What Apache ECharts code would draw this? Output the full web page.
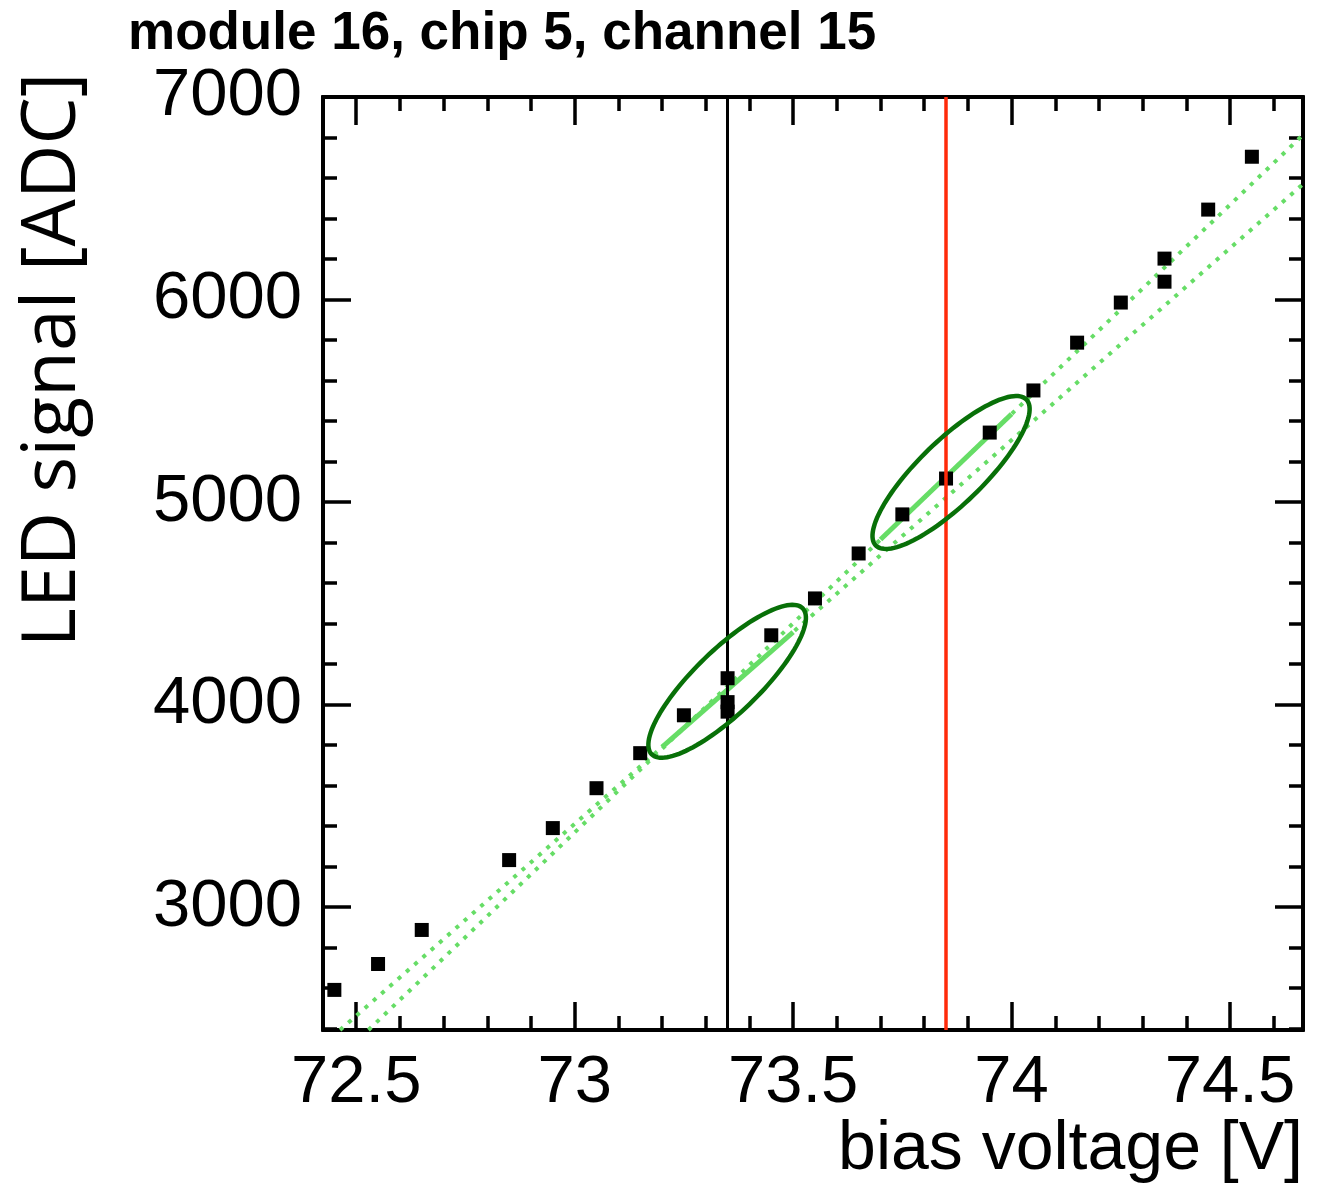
<!DOCTYPE html>
<html><head><meta charset="utf-8">
<script src="https://cdn.jsdelivr.net/npm/echarts@6/dist/echarts.min.js"></script>
<style>html,body{margin:0;padding:0;background:#fff}#c{width:1329px;height:1193px}</style>
</head><body><div id="c"></div>
<script>
const chartTitle = 'module 16, chip 5, channel 15';
const xTitle = 'bias voltage [V]';
const yTitle = 'LED signal [ADC]';

const voltages = [72.45, 72.55, 72.65, 72.85, 72.95, 73.05, 73.15, 73.25, 73.35, 73.35, 73.35, 73.45,
                  73.55, 73.65, 73.75, 73.85, 73.95, 74.05, 74.15, 74.25, 74.35, 74.35, 74.45, 74.55];
const signals  = [2591, 2719, 2887, 3232, 3390, 3587, 3760, 3947, 4130, 4012, 3965, 4342,
                  4524, 4746, 4939, 5116, 5343, 5551, 5787, 5985, 6088, 6202, 6444, 6705];

const xRange = [72.424, 74.667];
const yRange = [2393, 7000];
const xMajorTicks = [72.5, 73, 73.5, 74, 74.5];
const xMinorTicks = [72.5, 72.6, 72.7, 72.8, 72.9, 73.0, 73.1, 73.2, 73.3, 73.4, 73.5, 73.6, 73.7,
                     73.8, 73.9, 74.0, 74.1, 74.2, 74.3, 74.4, 74.5, 74.6];
const yMajorTicks = [3000, 4000, 5000, 6000, 7000];
const yMinorTicks = [2400, 2600, 2800, 3000, 3200, 3400, 3600, 3800, 4000, 4200, 4400, 4600, 4800,
                     5000, 5200, 5400, 5600, 5800, 6000, 6200, 6400, 6600, 6800, 7000];

const markerVoltages = [73.35, 73.85];           // black line, red line
const fitLineLow  = [[72.463, 2393], [74.667, 6570]];
const fitLineHigh = [[72.528, 2393], [74.667, 6813]];
const fitSegLow   = [[73.2, 3790], [73.5, 4358]];
const fitSegHigh  = [[73.7, 4815], [74.0, 5435]];
const ellipseAxes = [[73.176, 3755, 73.522, 4475], [73.689, 4786, 74.034, 5506]];

const FONT = "'Liberation Sans', Arial, Helvetica, sans-serif";
const LIGHT_GREEN = '#66dd66';

function xAx(pos, ticks, len, withLabels) {
  return {
    type: 'value', position: pos, min: xRange[0], max: xRange[1], gridIndex: 0,
    axisLine: { show: true, onZero: false, lineStyle: { color: '#000', width: 4 } },
    axisTick: { show: true, inside: true, length: len, customValues: ticks, lineStyle: { color: '#000', width: 3.5 } },
    axisLabel: withLabels ? { show: true, customValues: ticks, margin: 20, fontSize: 67, color: '#000', fontFamily: FONT,
      formatter: v => String(v) } : { show: false },
    splitLine: { show: false }
  };
}
function yAx(pos, ticks, len, withLabels) {
  return {
    type: 'value', position: pos, min: yRange[0], max: yRange[1], gridIndex: 0,
    axisLine: { show: true, onZero: false, lineStyle: { color: '#000', width: 4 } },
    axisTick: { show: true, inside: true, length: len, customValues: ticks, lineStyle: { color: '#000', width: 3.5 } },
    axisLabel: withLabels ? { show: true, customValues: ticks, margin: 21, fontSize: 67, color: '#000', fontFamily: FONT,
      formatter: v => String(v) } : { show: false },
    splitLine: { show: false }
  };
}

const chart = echarts.init(document.getElementById('c'), null, { renderer: 'canvas' });
chart.setOption({
  animation: false,
  backgroundColor: '#fff',
  grid: { left: 323, right: 26, top: 97, bottom: 163, containLabel: false },
  xAxis: [
    xAx('bottom', xMajorTicks, 28, true),
    xAx('bottom', xMinorTicks, 14, false),
    xAx('top', xMajorTicks, 28, false),
    xAx('top', xMinorTicks, 14, false)
  ],
  yAxis: [
    yAx('left', yMajorTicks, 28, true),
    yAx('left', yMinorTicks, 14, false),
    yAx('right', yMajorTicks, 28, false),
    yAx('right', yMinorTicks, 14, false)
  ],
  graphic: [
    { type: 'text', x: 128, y: 34, style: { text: chartTitle, font: "bold 53px 'Liberation Sans', Arial, sans-serif", fill: '#000', align: 'left', verticalAlign: 'middle' } },
    { type: 'text', x: 1303, y: 1150, style: { text: xTitle, font: "68px 'Liberation Sans', Arial, sans-serif", fill: '#000', align: 'right', verticalAlign: 'middle' } },
    { type: 'text', x: 54, y: 360, rotation: Math.PI / 2, style: { text: yTitle, font: "75px 'Open Sans', sans-serif", fill: '#000', align: 'center', verticalAlign: 'middle' } }
  ],
  series: [
    {
      type: 'line', data: [], xAxisIndex: 0, yAxisIndex: 0, z: 1,
      markLine: {
        silent: true, symbol: ['none', 'none'], label: { show: false }, animation: false,
        data: [
          { xAxis: markerVoltages[0], lineStyle: { color: '#000', width: 3, type: 'solid' } },
          { xAxis: markerVoltages[1], lineStyle: { color: '#ff2a0a', width: 3.5, type: 'solid' } }
        ]
      }
    },
    { type: 'line', data: fitLineLow, xAxisIndex: 0, yAxisIndex: 0, showSymbol: false, symbol: 'none', z: 2,
      lineStyle: { color: LIGHT_GREEN, width: 4, type: [4, 7] } },
    { type: 'line', data: fitLineHigh, xAxisIndex: 0, yAxisIndex: 0, showSymbol: false, symbol: 'none', z: 2,
      lineStyle: { color: LIGHT_GREEN, width: 4, type: [4, 7] } },
    { type: 'line', data: fitSegLow, xAxisIndex: 0, yAxisIndex: 0, showSymbol: false, symbol: 'none', z: 3,
      lineStyle: { color: LIGHT_GREEN, width: 5, type: 'solid' } },
    { type: 'line', data: fitSegHigh, xAxisIndex: 0, yAxisIndex: 0, showSymbol: false, symbol: 'none', z: 3,
      lineStyle: { color: LIGHT_GREEN, width: 5, type: 'solid' } },
    { type: 'scatter', data: voltages.map((v, i) => [v, signals[i]]), xAxisIndex: 0, yAxisIndex: 0, z: 4,
      symbol: 'rect', symbolSize: 14, itemStyle: { color: '#000', opacity: 1 } },
    {
      type: 'custom', xAxisIndex: 0, yAxisIndex: 0, z: 5, clip: false,
      data: ellipseAxes,
      encode: { x: [0, 2], y: [1, 3] },
      renderItem: function (params, api) {
        const p1 = api.coord([api.value(0), api.value(1)]);
        const p2 = api.coord([api.value(2), api.value(3)]);
        const cx = (p1[0] + p2[0]) / 2, cy = (p1[1] + p2[1]) / 2;
        const dx = p2[0] - p1[0], dy = p2[1] - p1[1];
        const a = Math.hypot(dx, dy) / 2, b = 32;
        const ux = dx / (2 * a), uy = dy / (2 * a);
        const pts = [];
        for (let k = 0; k < 120; k++) {
          const t = k / 120 * 2 * Math.PI;
          const ca = Math.cos(t) * a, sb = Math.sin(t) * b;
          pts.push([cx + ca * ux - sb * uy, cy + ca * uy + sb * ux]);
        }
        return { type: 'polygon', shape: { points: pts }, style: { fill: 'none', stroke: '#087008', lineWidth: 4.5 } };
      }
    }
  ]
});
</script>
</body></html>
